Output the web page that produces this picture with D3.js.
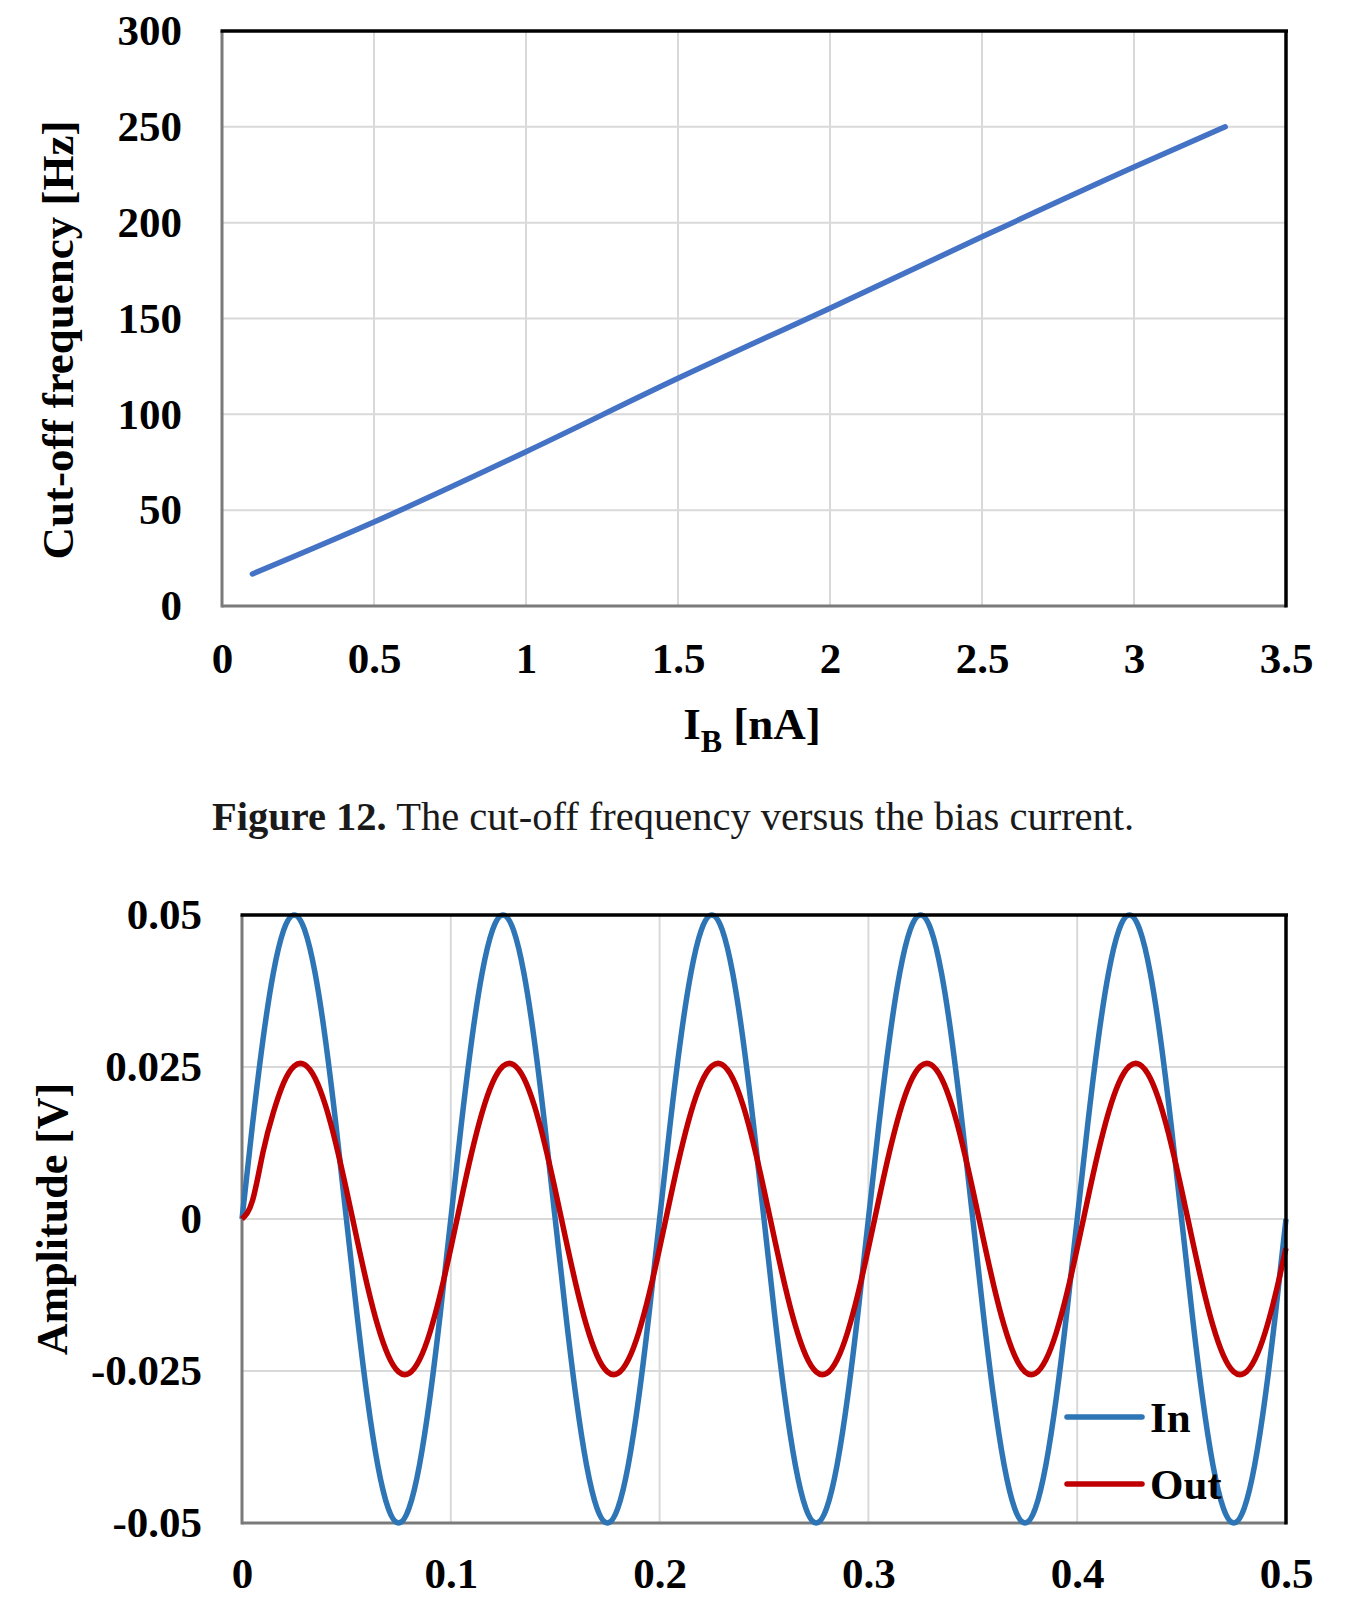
<!DOCTYPE html>
<html>
<head>
<meta charset="utf-8">
<script src="https://cdn.jsdelivr.net/npm/d3@7"></script>
<style>
  html, body { margin: 0; padding: 0; background: #ffffff; }
  svg { display: block; }
  text { font-family: "Liberation Serif", "Times New Roman", serif; }
</style>
</head>
<body>
<svg id="fig" width="1349" height="1604"></svg>
<script>
// ---------- Chart 1 data: cut-off frequency vs bias current ----------
const biasCurrent = [0.1, 0.5, 1.0, 1.5, 2.0, 2.5, 3.0, 3.3];          // nA
const cutoffFreq  = [16.7, 43.8, 80.5, 118.8, 155.4, 192.6, 229.0, 250.0]; // Hz
const xTicks1 = [0, 0.5, 1, 1.5, 2, 2.5, 3, 3.5];
const xLabels1 = ["0", "0.5", "1", "1.5", "2", "2.5", "3", "3.5"];
const yTicks1 = [0, 50, 100, 150, 200, 250, 300];
const yLabels1 = ["0", "50", "100", "150", "200", "250", "300"];

// ---------- Chart 2 data: input / output waveforms ----------
// sample times 0 .. 0.5 s, every 5 ms
const timeSec = d3.range(0, 101).map(k => k * 0.005);
const inputV = [
  0, 0.01545, 0.02939, 0.04045, 0.04755, 0.05, 0.04755, 0.04045, 0.02939, 0.01545,
  0, -0.01545, -0.02939, -0.04045, -0.04755, -0.05, -0.04755, -0.04045, -0.02939, -0.01545,
  0, 0.01545, 0.02939, 0.04045, 0.04755, 0.05, 0.04755, 0.04045, 0.02939, 0.01545,
  0, -0.01545, -0.02939, -0.04045, -0.04755, -0.05, -0.04755, -0.04045, -0.02939, -0.01545,
  0, 0.01545, 0.02939, 0.04045, 0.04755, 0.05, 0.04755, 0.04045, 0.02939, 0.01545,
  0, -0.01545, -0.02939, -0.04045, -0.04755, -0.05, -0.04755, -0.04045, -0.02939, -0.01545,
  0, 0.01545, 0.02939, 0.04045, 0.04755, 0.05, 0.04755, 0.04045, 0.02939, 0.01545,
  0, -0.01545, -0.02939, -0.04045, -0.04755, -0.05, -0.04755, -0.04045, -0.02939, -0.01545,
  0, 0.01545, 0.02939, 0.04045, 0.04755, 0.05, 0.04755, 0.04045, 0.02939, 0.01545,
  0, -0.01545, -0.02939, -0.04045, -0.04755, -0.05, -0.04755, -0.04045, -0.02939, -0.01545,
  0
];
const outputV = [
  0, 0.0030, 0.0109, 0.01752, 0.02243, 0.02515, 0.0254, 0.02316, 0.01866, 0.01233,
  0.0048, -0.00321, -0.0109, -0.01752, -0.02243, -0.02515, -0.0254, -0.02316, -0.01866, -0.01233,
  -0.0048, 0.00321, 0.0109, 0.01752, 0.02243, 0.02515, 0.0254, 0.02316, 0.01866, 0.01233,
  0.0048, -0.00321, -0.0109, -0.01752, -0.02243, -0.02515, -0.0254, -0.02316, -0.01866, -0.01233,
  -0.0048, 0.00321, 0.0109, 0.01752, 0.02243, 0.02515, 0.0254, 0.02316, 0.01866, 0.01233,
  0.0048, -0.00321, -0.0109, -0.01752, -0.02243, -0.02515, -0.0254, -0.02316, -0.01866, -0.01233,
  -0.0048, 0.00321, 0.0109, 0.01752, 0.02243, 0.02515, 0.0254, 0.02316, 0.01866, 0.01233,
  0.0048, -0.00321, -0.0109, -0.01752, -0.02243, -0.02515, -0.0254, -0.02316, -0.01866, -0.01233,
  -0.0048, 0.00321, 0.0109, 0.01752, 0.02243, 0.02515, 0.0254, 0.02316, 0.01866, 0.01233,
  0.0048, -0.00321, -0.0109, -0.01752, -0.02243, -0.02515, -0.0254, -0.02316, -0.01866, -0.01233,
  -0.0048
];
const xTicks2 = [0, 0.1, 0.2, 0.3, 0.4, 0.5];
const xLabels2 = ["0", "0.1", "0.2", "0.3", "0.4", "0.5"];
const yTicks2 = [-0.05, -0.025, 0, 0.025, 0.05];
const yLabels2 = ["-0.05", "-0.025", "0", "0.025", "0.05"];
const seriesNames = ["In", "Out"];

// ---------- drawing ----------
const svg = d3.select("#fig");
svg.append("rect").attr("width", 1349).attr("height", 1604).attr("fill", "#fff");

const GRID = "#d9d9d9";
const TICK_FONT = 43;

function frame(g, x, y) {
  const [x0, x1] = x.range();
  const [y0, y1] = y.range(); // y0 bottom, y1 top
  g.append("line").attr("x1", x0).attr("x2", x0).attr("y1", y1).attr("y2", y0 + 1.5)
    .attr("stroke", "#7a7a7a").attr("stroke-width", 3);
  g.append("line").attr("x1", x0).attr("x2", x1).attr("y1", y0).attr("y2", y0)
    .attr("stroke", "#7a7a7a").attr("stroke-width", 3);
  return () => {
    g.append("line").attr("x1", x0 - 1.5).attr("x2", x1 + 2).attr("y1", y1).attr("y2", y1)
      .attr("stroke", "#000").attr("stroke-width", 3.5);
    g.append("line").attr("x1", x1).attr("x2", x1).attr("y1", y1).attr("y2", y0 + 1.5)
      .attr("stroke", "#000").attr("stroke-width", 3.5);
  };
}

function axes(g, x, y, xt, xl, yt, yl, xPad, yPad) {
  const ax = g.append("g").attr("transform", `translate(0,${y.range()[0]})`)
    .call(d3.axisBottom(x).tickValues(xt).tickSize(0).tickPadding(xPad)
      .tickFormat((d, i) => xl[i]));
  const ay = g.append("g").attr("transform", `translate(${x.range()[0]},0)`)
    .call(d3.axisLeft(y).tickValues(yt).tickSize(0).tickPadding(yPad)
      .tickFormat((d, i) => yl[i]));
  [ax, ay].forEach(a => {
    a.select(".domain").remove();
    a.selectAll("text").attr("font-family", '"Liberation Serif", "Times New Roman", serif')
      .attr("font-weight", "bold").attr("font-size", TICK_FONT).attr("fill", "#000");
  });
}

function grid(g, x, y, xt, yt) {
  const [x0, x1] = x.range();
  const [y0, y1] = y.range();
  g.selectAll(null).data(xt.slice(1, -1)).enter().append("line")
    .attr("x1", d => x(d)).attr("x2", d => x(d)).attr("y1", y1).attr("y2", y0)
    .attr("stroke", GRID).attr("stroke-width", 2);
  g.selectAll(null).data(yt.slice(1, -1)).enter().append("line")
    .attr("x1", x0).attr("x2", x1).attr("y1", d => y(d)).attr("y2", d => y(d))
    .attr("stroke", GRID).attr("stroke-width", 2);
}

// ----- Chart 1 -----
{
  const g = svg.append("g");
  const x = d3.scaleLinear().domain([0, 3.5]).range([222, 1286]);
  const y = d3.scaleLinear().domain([0, 300]).range([606, 31]);
  grid(g, x, y, xTicks1, yTicks1);
  const top = frame(g, x, y);
  const line = d3.line().x((d, i) => x(biasCurrent[i])).y(d => y(d)).curve(d3.curveMonotoneX);
  g.append("path").datum(cutoffFreq).attr("d", line).attr("fill", "none")
    .attr("stroke", "#4472c4").attr("stroke-width", 5.5).attr("stroke-linecap", "round");
  top();
  axes(g, x, y, xTicks1, xLabels1, yTicks1, yLabels1, 36, 40);

  g.append("text").attr("transform", "translate(73,340) rotate(-90)")
    .attr("text-anchor", "middle").attr("font-weight", "bold").attr("font-size", 45)
    .text("Cut-off frequency [Hz]");

  const xt = g.append("text").attr("x", 752).attr("y", 739).attr("text-anchor", "middle")
    .attr("font-weight", "bold").attr("font-size", 45);
  xt.append("tspan").text("I");
  xt.append("tspan").attr("font-size", 32).attr("dy", 13).text("B");
  xt.append("tspan").attr("dy", -13).text(" [nA]");

  const cap = svg.append("text").attr("x", 212).attr("y", 830).attr("font-size", 40.5)
    .attr("font-family", '"Liberation Serif", "Times New Roman", serif').attr("fill", "#1a1a1a");
  cap.append("tspan").attr("font-weight", "bold").text("Figure 12.");
  cap.append("tspan").text(" The cut-off frequency versus the bias current.");
}

// ----- Chart 2 -----
{
  const g = svg.append("g");
  const x = d3.scaleLinear().domain([0, 0.5]).range([242, 1286]);
  const y = d3.scaleLinear().domain([-0.05, 0.05]).range([1523, 915]);
  grid(g, x, y, xTicks2, yTicks2);
  const top = frame(g, x, y);
  const colors = ["#2e75b6", "#c00000"];
  const series = [inputV, outputV];
  const line = d3.line().x((d, i) => x(timeSec[i])).y(d => y(d)).curve(d3.curveNatural);
  series.forEach((s, j) => {
    g.append("path").datum(s).attr("d", line).attr("fill", "none")
      .attr("stroke", colors[j]).attr("stroke-width", 5.5).attr("stroke-linejoin", "round");
  });
  top();
  axes(g, x, y, xTicks2, xLabels2, yTicks2, yLabels2, 34, 40);

  g.append("text").attr("transform", "translate(67,1219) rotate(-90)")
    .attr("text-anchor", "middle").attr("font-weight", "bold").attr("font-size", 44)
    .text("Amplitude [V]");

  const legY = [1417, 1484];
  seriesNames.forEach((name, j) => {
    g.append("line").attr("x1", 1067).attr("x2", 1142).attr("y1", legY[j]).attr("y2", legY[j])
      .attr("stroke", colors[j]).attr("stroke-width", 5.5).attr("stroke-linecap", "round");
    g.append("text").attr("x", 1150).attr("y", legY[j] + 15).attr("font-weight", "bold")
      .attr("font-size", 43).text(name);
  });
}
</script>
</body>
</html>
